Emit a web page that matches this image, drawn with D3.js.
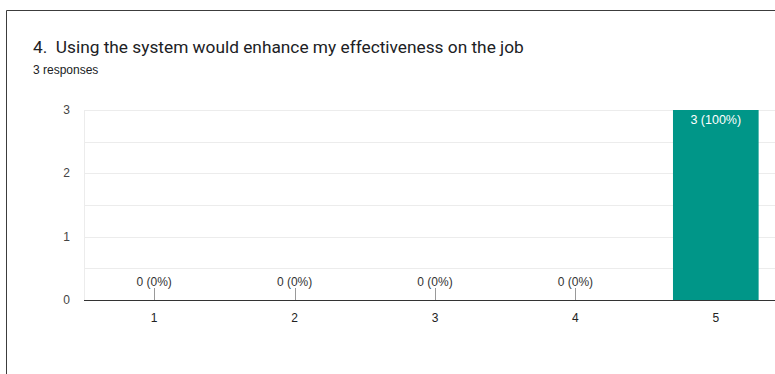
<!DOCTYPE html>
<html>
<head>
<meta charset="utf-8">
<script src="https://cdn.jsdelivr.net/npm/d3@7"></script>
<style>
  body { margin: 0; background: #fff; }
  svg { display: block; font-family: "Liberation Sans", Arial, sans-serif; }
  .title { white-space: pre; font-family: Roboto, sans-serif; }
</style>
</head>
<body>
<svg width="775" height="374"></svg>
<script>
const categories = ["1", "2", "3", "4", "5"];
const counts = [0, 0, 0, 0, 3];
const yTicks = [0, 1, 2, 3];
const title = "4.  Using the system would enhance my effectiveness on the job";
const subtitle = "3 responses";

const total = d3.sum(counts);
const svg = d3.select("svg");

// card border (left and top edges visible)
svg.append("path")
  .attr("d", "M6.5,374 V10.5 H775")
  .attr("fill", "none")
  .attr("stroke", "#3c3c3c")
  .attr("stroke-width", 1);

svg.append("text")
  .attr("class", "title")
  .attr("x", 33).attr("y", 53)
  .attr("font-size", 17.3).attr("fill", "#202124")
  .text(title);

svg.append("text")
  .attr("x", 33).attr("y", 74)
  .attr("font-size", 12).attr("fill", "#202124")
  .text(subtitle);

const x = d3.scaleBand()
  .domain(categories)
  .range([84, 786])
  .paddingInner(0.39)
  .paddingOuter(0.195);

const y = d3.scaleLinear()
  .domain([0, 3])
  .range([300, 110]);

// gridlines at half-steps
svg.append("g")
  .selectAll("line")
  .data(d3.range(0.5, 3.01, 0.5))
  .join("line")
  .attr("x1", 84).attr("x2", 775)
  .attr("y1", d => Math.round(y(d)) + 0.5)
  .attr("y2", d => Math.round(y(d)) + 0.5)
  .attr("stroke", "#ececec");

svg.append("line")
  .attr("x1", 84.5).attr("x2", 84.5)
  .attr("y1", 110).attr("y2", 300)
  .attr("stroke", "#ececec");

// y axis labels
svg.append("g")
  .selectAll("text")
  .data(yTicks)
  .join("text")
  .attr("x", 70)
  .attr("y", d => y(d) + 4)
  .attr("text-anchor", "end")
  .attr("font-size", 12).attr("fill", "#444")
  .text(d => d);

// bars
const bars = svg.append("g")
  .selectAll("g")
  .data(categories.map((c, i) => ({ c, v: counts[i] })))
  .join("g");

bars.filter(d => d.v > 0)
  .append("rect")
  .attr("x", d => x(d.c))
  .attr("width", x.bandwidth())
  .attr("y", d => y(d.v))
  .attr("height", d => y(0) - y(d.v))
  .attr("fill", "#009688");

bars.filter(d => d.v > 0)
  .append("text")
  .attr("x", d => x(d.c) + x.bandwidth() / 2)
  .attr("y", d => y(d.v) + 14)
  .attr("text-anchor", "middle")
  .attr("font-size", 12.5).attr("fill", "#fff")
  .text(d => `${d.v} (${Math.round(d.v / total * 100)}%)`);

// zero-value annotations
const zeros = bars.filter(d => d.v === 0);
zeros.append("line")
  .attr("x1", d => Math.round(x(d.c) + x.bandwidth() / 2) + 0.5)
  .attr("x2", d => Math.round(x(d.c) + x.bandwidth() / 2) + 0.5)
  .attr("y1", 288).attr("y2", 300)
  .attr("stroke", "#999");
zeros.append("text")
  .attr("x", d => x(d.c) + x.bandwidth() / 2)
  .attr("y", 286)
  .attr("text-anchor", "middle")
  .attr("font-size", 12).attr("fill", "#333")
  .text(d => `${d.v} (${Math.round(d.v / total * 100)}%)`);

// x axis baseline
svg.append("line")
  .attr("x1", 84).attr("x2", 775)
  .attr("y1", 300.5).attr("y2", 300.5)
  .attr("stroke", "#333");

svg.append("g")
  .selectAll("text")
  .data(categories)
  .join("text")
  .attr("x", d => x(d) + x.bandwidth() / 2)
  .attr("y", 322)
  .attr("text-anchor", "middle")
  .attr("font-size", 12).attr("fill", "#222")
  .text(d => d);
</script>
</body>
</html>
